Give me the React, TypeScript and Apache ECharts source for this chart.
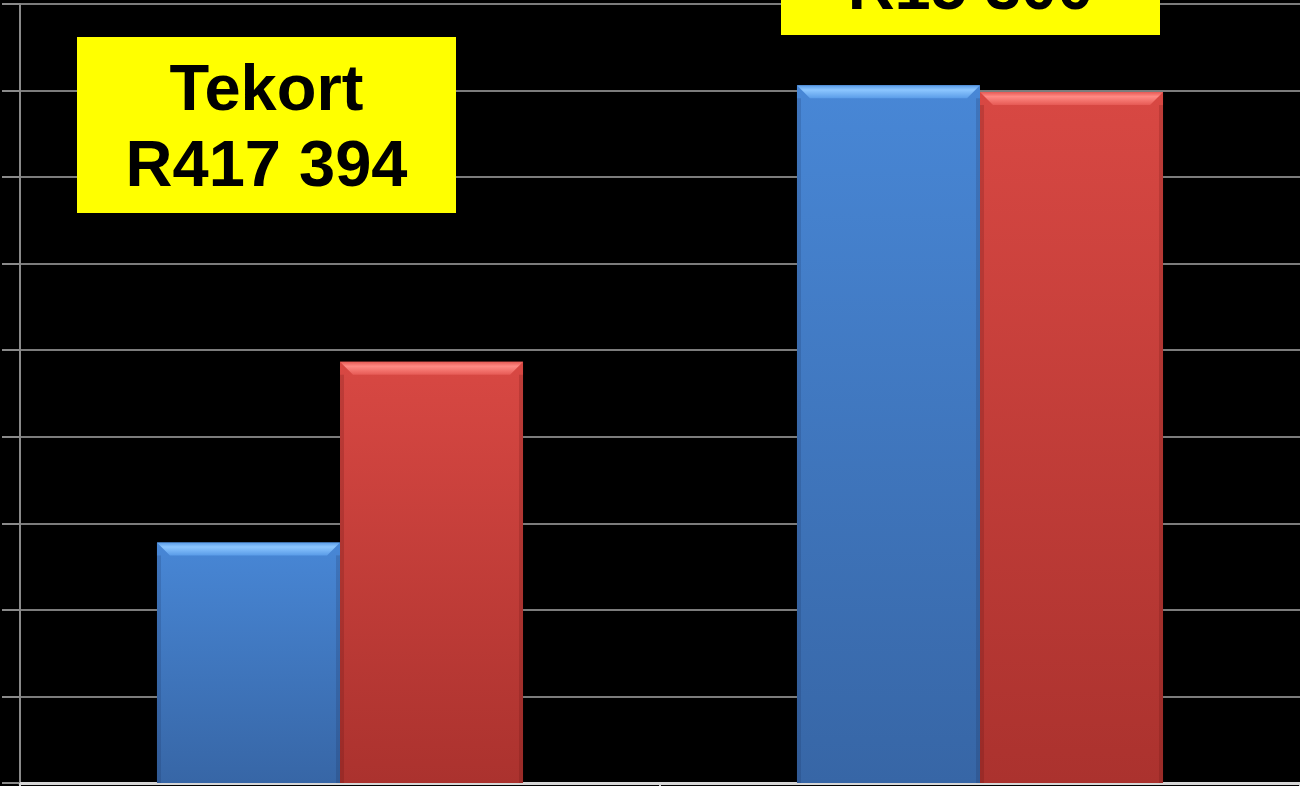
import React, { useEffect, useRef } from "react";
import * as echarts from "echarts";

const categories = ["A", "B"];
const blueValues = [556000, 1612000];
const redValues = [973394, 1596700];
const yTicks = [0, 200000, 400000, 600000, 800000, 1000000, 1200000, 1400000, 1600000, 1800000];
const labelLines1 = ["Tekort", "R417 394"];
const labelLines2 = ["R15 300"];

const BAR_RATIO = 0.286;

type Pal = { top: string; bottom: string; bevelTop: string; bevelBottom: string; side: string };
const bluePal: Pal = { top: "#4887d6", bottom: "#3766a6", bevelTop: "#8cc6ff", bevelBottom: "#5a9ce8", side: "rgba(20,40,80,0.18)" };
const redPal: Pal = { top: "#d84843", bottom: "#ab322e", bevelTop: "#ff8a84", bevelBottom: "#e65a55", side: "rgba(80,10,10,0.18)" };

function makeRender(side: number, pal: Pal) {
  return (params: any, api: any) => {
    const cat = api.value(0);
    const v = api.value(1);
    const top = api.coord([cat, v]);
    const bottom = api.coord([cat, 0]);
    const band = api.size([1, 0])[0];
    const w = band * BAR_RATIO;
    const x0 = side === 0 ? top[0] - w : top[0];
    const x1 = x0 + w;
    const y0 = top[1];
    const y1 = bottom[1];
    const d = 13;
    const s = 4;
    return {
      type: "group",
      children: [
        {
          type: "rect",
          shape: { x: x0, y: y0, width: w, height: y1 - y0 },
          style: {
            fill: new echarts.graphic.LinearGradient(0, 0, 0, 1, [
              { offset: 0, color: pal.top },
              { offset: 1, color: pal.bottom },
            ]),
          },
        },
        {
          type: "polygon",
          shape: { points: [[x0, y0 + d], [x0 + s, y0 + d], [x0 + s, y1], [x0, y1]] },
          style: { fill: pal.side },
        },
        {
          type: "polygon",
          shape: { points: [[x1, y0 + d], [x1 - s, y0 + d], [x1 - s, y1], [x1, y1]] },
          style: { fill: pal.side },
        },
        {
          type: "polygon",
          shape: { points: [[x0, y0], [x1, y0], [x1 - d, y0 + d], [x0 + d, y0 + d]] },
          style: {
            fill: new echarts.graphic.LinearGradient(0, 0, 0, 1, [
              { offset: 0, color: pal.bevelBottom },
              { offset: 0.35, color: pal.bevelTop },
              { offset: 1, color: pal.bevelBottom },
            ]),
          },
        },
      ],
    };
  };
}

export default function App() {
  const ref = useRef<HTMLDivElement>(null);
  useEffect(() => {
    document.body.style.margin = "0";
    const chart = echarts.init(ref.current!, null, { renderer: "svg" });
    const font = "'Liberation Sans', Arial, sans-serif";
    chart.setOption({
      animation: false,
      backgroundColor: "#000000",
      grid: { left: 20, right: 0, top: 4, bottom: 3, containLabel: false },
      xAxis: {
        type: "category",
        data: categories,
        axisLabel: { show: false },
        axisLine: { lineStyle: { color: "#d6d6d6", width: 3 } },
        axisTick: { show: true, length: 3, lineStyle: { color: "#d6d6d6", width: 2 } },
        splitLine: { show: false },
      },
      yAxis: {
        type: "value",
        min: yTicks[0],
        max: yTicks[yTicks.length - 1],
        interval: yTicks[1] - yTicks[0],
        axisLabel: { show: false },
        axisLine: { show: true, lineStyle: { color: "#8a8a8a", width: 2 } },
        axisTick: { show: true, length: 18, lineStyle: { color: "#8a8a8a", width: 2 } },
        splitLine: { show: true, lineStyle: { color: "#7c7c7c", width: 2 } },
      },
      series: [
        {
          type: "custom",
          name: "Blou",
          renderItem: makeRender(0, bluePal),
          data: categories.map((_, i) => [i, blueValues[i]]),
          z: 3,
        },
        {
          type: "custom",
          name: "Rooi",
          renderItem: makeRender(1, redPal),
          data: categories.map((_, i) => [i, redValues[i]]),
          z: 3,
        },
      ],
      graphic: [
        {
          type: "group",
          left: 77,
          top: 37,
          z: 100,
          children: [
            { type: "rect", z: 100, shape: { x: 0, y: 0, width: 379, height: 176 }, style: { fill: "#ffff00" } },
            {
              type: "text",
              z: 101,
              x: 189.5,
              y: 83,
              style: { text: labelLines1[0], fill: "#000", font: `bold 65px ${font}`, textAlign: "center", textVerticalAlign: "bottom" },
            },
            {
              type: "text",
              z: 101,
              x: 189.5,
              y: 159,
              style: { text: labelLines1[1], fill: "#000", font: `bold 65px ${font}`, textAlign: "center", textVerticalAlign: "bottom" },
            },
          ],
        },
        {
          type: "rect",
          z: 100,
          shape: { x: 781, y: -140, width: 379, height: 175 },
          style: { fill: "#ffff00" },
        },
        {
          type: "text",
          z: 101,
          x: 970.5,
          y: 19,
          style: { text: labelLines2[0], fill: "#000", font: `bold 65px ${font}`, textAlign: "center", textVerticalAlign: "bottom" },
        },
      ],
    });
    return () => chart.dispose();
  }, []);
  return <div ref={ref} style={{ width: 1300, height: 786, background: "#000" }} />;
}
